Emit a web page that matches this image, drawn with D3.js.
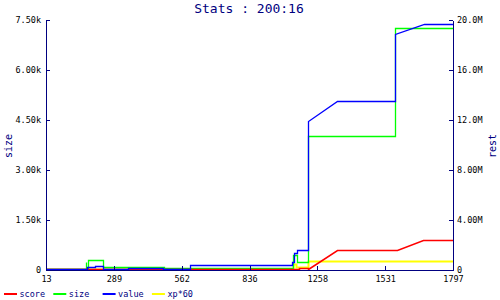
<!DOCTYPE html>
<html>
<head>
<script src="https://d3js.org/d3.v7.min.js"></script>
<style>
  body { margin: 0; background: #fff; }
  svg { display: block; }
  .axis text { font-family: "DejaVu Sans Mono", monospace; font-size: 8.5px; fill: #000; }
  .axis path, .axis line { stroke: #000080; shape-rendering: crispEdges; }
</style>
</head>
<body>
<svg></svg>
<script>
// x tick labels (the axis spacing is even, values are not)
var xTicks = [13, 289, 562, 836, 1258, 1531, 1797];

var yLeftTicks = [0, 1500, 3000, 4500, 6000, 7500];
var yLeftLabels = ["0", "1.50k", "3.00k", "4.50k", "6.00k", "7.50k"];
var yRightTicks = [0, 4, 8, 12, 16, 20];           // millions
var yRightLabels = ["0", "4.00M", "8.00M", "12.0M", "16.0M", "20.0M"];

// size (left axis)
var sizeData = [[13,0],[176,0],[176,220],[176,30],[184,30],[184,270],[246,270],[246,60],
  [490,60],[490,30],[1109,30],[1109,420],[1132,420],[1132,200],[1198,200],[1198,3990],
  [1571,3990],[1571,7230],[1797,7230]];
// value (right axis, millions)
var valueData = [[13,0],[178,0],[178,0.14],[212,0.14],[212,0.26],[244,0.26],[244,0],[345,0],
  [345,0.08],[486,0.08],[486,0],[594,0],[594,0.34],[1103,0.34],[1103,0.58],[1115,0.58],
  [1115,1.28],[1132,1.28],[1132,1.54],[1198,1.54],[1198,11.86],[1339,13.42],[1571,13.42],
  [1571,18.82],[1683,19.58],[1797,19.58]];
// score (right axis, millions)
var scoreData = [[13,0],[1146,0],[1146,0.05],[1198,0.05],[1198,0],[1339,1.54],[1578,1.54],
  [1681,2.34],[1797,2.34]];
// xp*60 (right axis, millions)
var xpData = [[13,0.04],[1109,0.04],[1109,0.4],[1127,0.4],[1127,0.16],[1198,0.16],
  [1198,0.64],[1797,0.64]];

var legendNames = ["score", "size", "value", "xp*60"];
var legendColors = ["#ff0000", "#00ff00", "#0000ff", "#ffff00"];

var W = 500, H = 300;
var plotL = 46, plotR = 453, plotT = 20, plotB = 270;

var svg = d3.select("svg").attr("width", W).attr("height", H);

var x = d3.scaleLinear()
  .domain(xTicks)
  .range(xTicks.map(function(d, i){ return plotL + i * (plotR - plotL) / (xTicks.length - 1); }));
var yL = d3.scaleLinear().domain([0, 7500]).range([plotB, plotT]);
var yR = d3.scaleLinear().domain([0, 20]).range([plotB, plotT]);

svg.append("text")
  .attr("x", 249).attr("y", 13)
  .attr("text-anchor", "middle")
  .style("font-family", "DejaVu Sans Mono, monospace")
  .style("font-size", "13px")
  .style("fill", "#000080")
  .text("Stats : 200:16");

// snap to pixel centres so 1px lines stay solid
function line(y) {
  return d3.line()
    .x(function(d){ return Math.round(x(d[0])) + 0.5; })
    .y(function(d){ return Math.round(y(d[1])) - 0.5; });
}

var series = [
  {data: xpData, y: yR, color: "#ffff00", w: 2},
  {data: sizeData, y: yL, color: "#00ff00", w: 1.3},
  {data: scoreData, y: yR, color: "#ff0000", w: 1.5},
  {data: valueData, y: yR, color: "#0000ff", w: 1.3}
];

svg.selectAll(".series")
  .data(series)
  .enter().append("path")
  .attr("class", "series")
  .attr("d", function(d){ return line(d.y)(d.data); })
  .attr("fill", "none")
  .attr("stroke", function(d){ return d.color; })
  .attr("stroke-width", function(d){ return d.w; })
  .attr("stroke-linejoin", "miter");

svg.append("g")
  .attr("class", "axis")
  .attr("transform", "translate(0," + plotB + ")")
  .call(d3.axisBottom(x).tickValues(xTicks).tickFormat(d3.format("d"))
    .tickSize(-4).tickSizeOuter(0).tickPadding(6));

svg.append("g")
  .attr("class", "axis")
  .attr("transform", "translate(" + plotL + ",0)")
  .call(d3.axisLeft(yL).tickValues(yLeftTicks)
    .tickFormat(function(d, i){ return yLeftLabels[i]; })
    .tickSize(-4).tickSizeOuter(0).tickPadding(5));

svg.append("g")
  .attr("class", "axis")
  .attr("transform", "translate(" + plotR + ",0)")
  .call(d3.axisRight(yR).tickValues(yRightTicks)
    .tickFormat(function(d, i){ return yRightLabels[i]; })
    .tickSize(-4).tickSizeOuter(0).tickPadding(4));

svg.selectAll(".axis .domain").attr("stroke-width", 1.5);

function axisTitle(txt, cx, cy) {
  svg.append("text")
    .attr("transform", "translate(" + cx + "," + cy + ") rotate(-90)")
    .attr("text-anchor", "middle")
    .attr("dy", "0.35em")
    .style("font-family", "DejaVu Sans Mono, monospace")
    .style("font-size", "10px")
    .style("fill", "#000080")
    .text(txt);
}
axisTitle("size", 8, 146);
axisTitle("rest", 492, 146);

var leg = svg.selectAll(".leg")
  .data(legendNames)
  .enter().append("g")
  .attr("class", "leg")
  .attr("transform", function(d, i){ return "translate(" + (4 + i * 49.3) + ",294)"; });

leg.append("line")
  .attr("x1", 0).attr("x2", 13)
  .attr("stroke", function(d, i){ return legendColors[i]; })
  .attr("stroke-width", 2);

leg.append("text")
  .attr("x", 15.5).attr("y", 3)
  .style("font-family", "DejaVu Sans Mono, monospace")
  .style("font-size", "8.5px")
  .style("fill", "#000080")
  .text(function(d){ return d; });
</script>
</body>
</html>
